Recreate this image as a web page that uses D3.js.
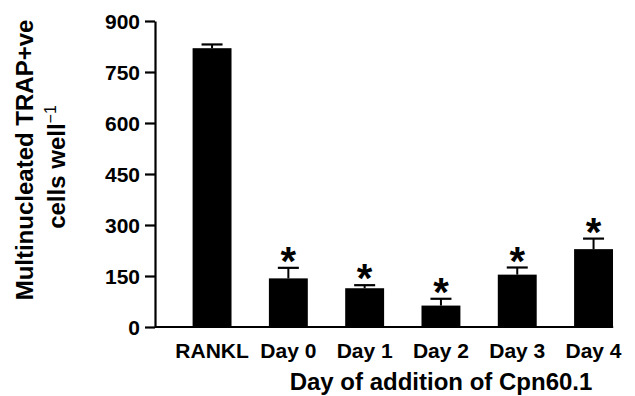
<!DOCTYPE html>
<html>
<head>
<meta charset="utf-8">
<script src="https://cdn.jsdelivr.net/npm/d3@7"></script>
<style>
html, body { margin: 0; padding: 0; background: #fff; }
svg { display: block; }
text { font-family: "Liberation Sans", Arial, Helvetica, sans-serif; font-weight: bold; fill: #000; }
</style>
</head>
<body>
<svg id="chart" width="635" height="396"></svg>
<script>
const categories = ["RANKL", "Day 0", "Day 1", "Day 2", "Day 3", "Day 4"];
const means = [820, 143, 114, 63, 154, 229];
const errors = [11, 31, 9, 20, 21, 31];
const significant = [false, true, true, true, true, true];
const yTicks = [0, 150, 300, 450, 600, 750, 900];
const xTitle = "Day of addition of Cpn60.1";
const yTitleLine1 = "Multinucleated TRAP+ve";
const yTitleLine2 = "cells well";

const svg = d3.select("#chart");

const y = d3.scaleLinear().domain([0, 900]).range([327, 21]);
const x = d3.scaleBand().domain(categories).range([173.9, 631.7])
  .paddingInner(0.49).paddingOuter(0.245);

const data = categories.map((c, i) => ({ c, m: means[i], e: errors[i], s: significant[i] }));

// Y axis
const yAxis = d3.axisLeft(y).tickValues(yTicks).tickSize(10).tickPadding(5).tickSizeOuter(0);
const gy = svg.append("g").attr("transform", "translate(155,0)").call(yAxis);
gy.select(".domain").attr("stroke", "#000").attr("stroke-width", 2.2);
gy.selectAll(".tick line").attr("stroke", "#000").attr("stroke-width", 2.2);
gy.selectAll(".tick text").style("font-size", "21px").attr("dy", "0.36em");

// X axis line
svg.append("line")
  .attr("x1", 155).attr("x2", x.range()[1] - 18.5)
  .attr("y1", y(0)).attr("y2", y(0))
  .attr("stroke", "#000").attr("stroke-width", 2.2);

// Bars
svg.append("g").selectAll("rect").data(data).join("rect")
  .attr("x", d => x(d.c))
  .attr("y", d => y(d.m))
  .attr("width", x.bandwidth())
  .attr("height", d => y(0) - y(d.m))
  .attr("fill", "#000");

// Error bars
const eg = svg.append("g").attr("stroke", "#000");
eg.selectAll("line.stem").data(data).join("line").attr("class", "stem")
  .attr("x1", d => x(d.c) + x.bandwidth() / 2)
  .attr("x2", d => x(d.c) + x.bandwidth() / 2)
  .attr("y1", d => y(d.m))
  .attr("y2", d => y(d.m + d.e))
  .attr("stroke-width", 2);
eg.selectAll("line.cap").data(data).join("line").attr("class", "cap")
  .attr("x1", d => x(d.c) + x.bandwidth() / 2 - 10.5)
  .attr("x2", d => x(d.c) + x.bandwidth() / 2 + 10.5)
  .attr("y1", d => y(d.m + d.e))
  .attr("y2", d => y(d.m + d.e))
  .attr("stroke-width", 2.2);

// Significance stars
svg.append("g").selectAll("text").data(data.filter(d => d.s)).join("text")
  .attr("x", d => x(d.c) + x.bandwidth() / 2)
  .attr("y", d => y(d.m + d.e) - 16 + 0.575 * 40)
  .attr("text-anchor", "middle")
  .style("font-size", "40px")
  .text("*");

// X tick labels
svg.append("g").selectAll("text").data(categories).join("text")
  .attr("x", d => x(d) + x.bandwidth() / 2)
  .attr("y", 358)
  .attr("text-anchor", "middle")
  .style("font-size", "21px")
  .text(d => d);

// X title
svg.append("text")
  .attr("x", 441).attr("y", 390)
  .attr("text-anchor", "middle")
  .style("font-size", "24px")
  .text(xTitle);

// Y title
svg.append("text")
  .attr("transform", "translate(33,160) rotate(-90)")
  .attr("text-anchor", "middle")
  .style("font-size", "24px")
  .text(yTitleLine1);
const t2 = svg.append("text")
  .attr("transform", "translate(65,167) rotate(-90)")
  .attr("text-anchor", "middle")
  .style("font-size", "24px");
t2.append("tspan").text(yTitleLine2);
t2.append("tspan").attr("dy", "-0.55em").style("font-size", "16px").style("font-weight", "normal").text("\u22121");
</script>
</body>
</html>
